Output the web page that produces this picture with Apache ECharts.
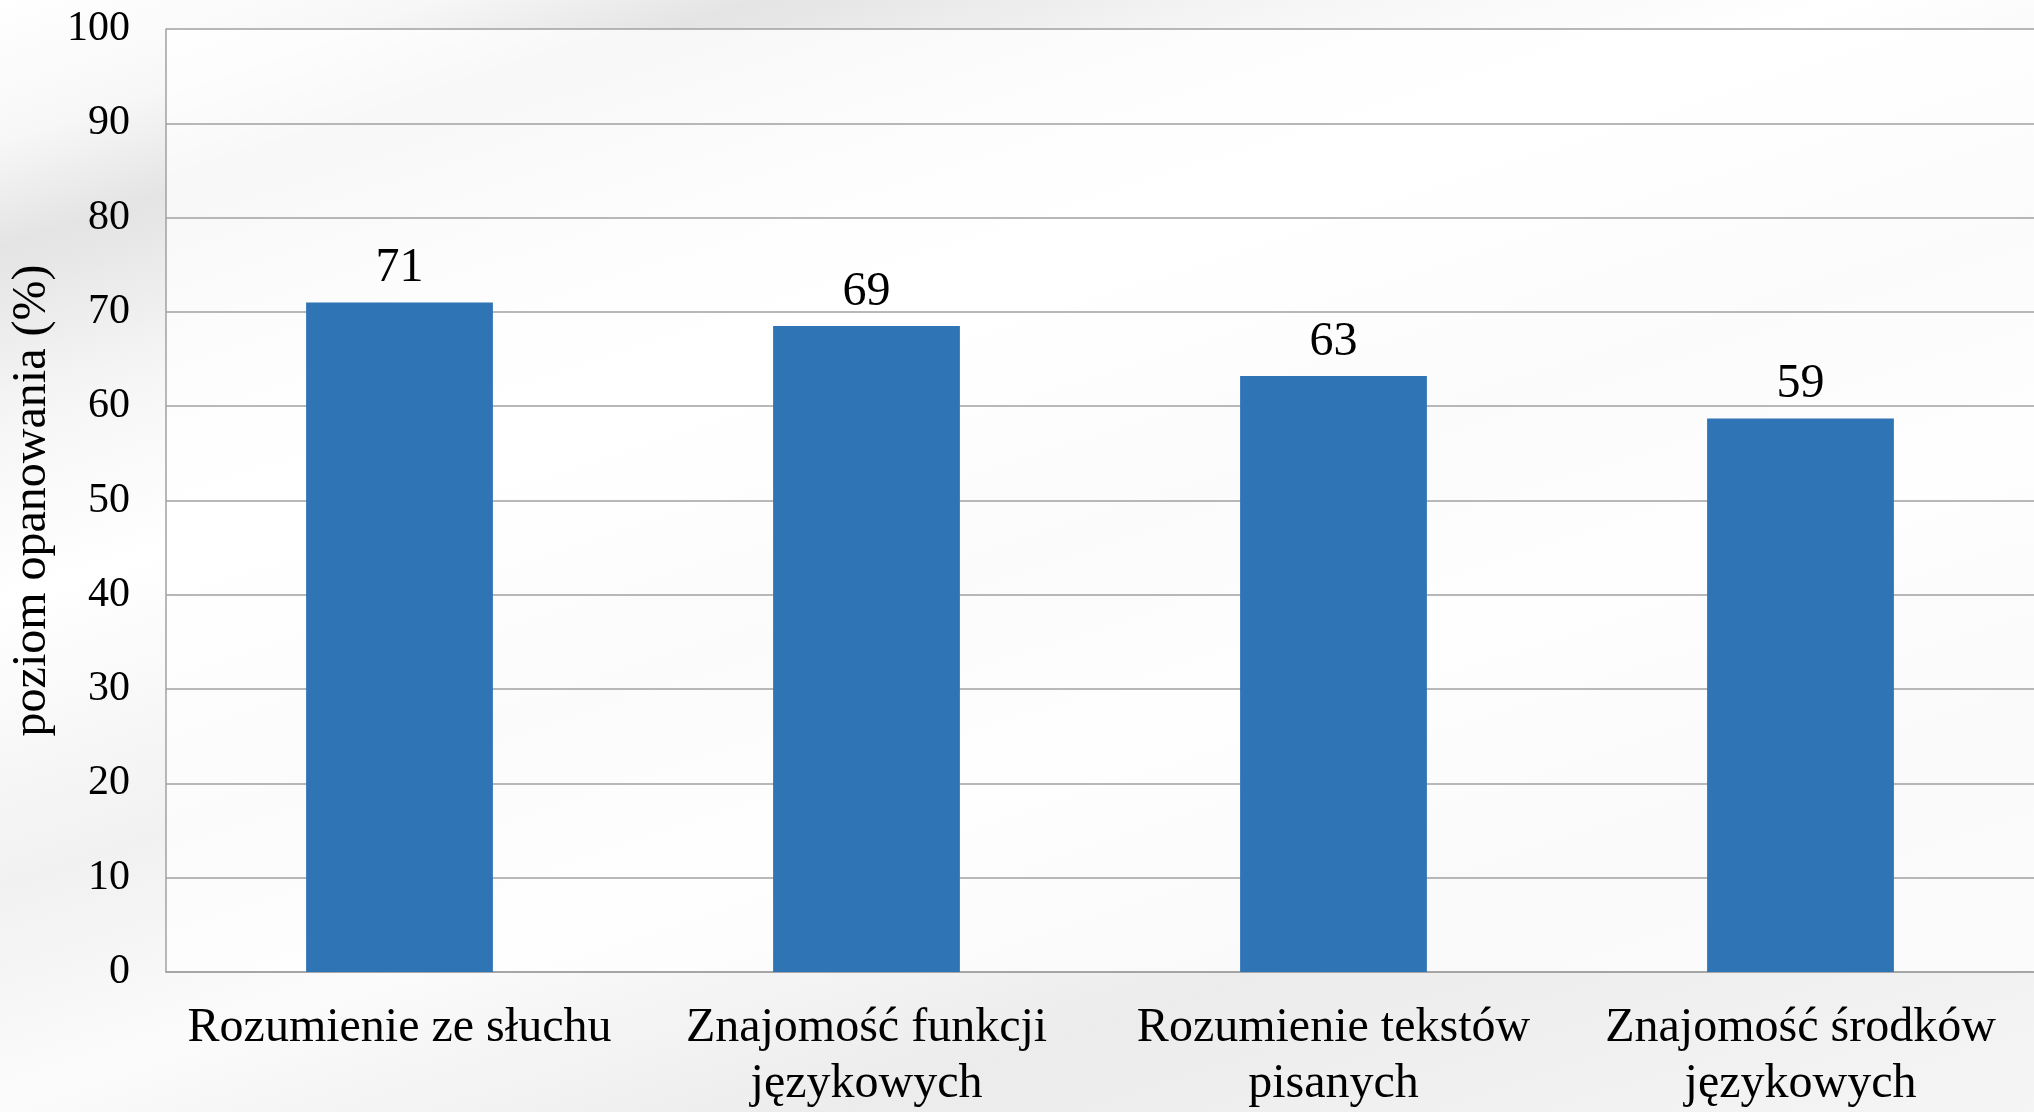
<!DOCTYPE html>
<html>
<head>
<meta charset="utf-8">
<script src="https://cdn.jsdelivr.net/npm/echarts@6/dist/echarts.min.js"></script>
<style>
html, body { margin: 0; padding: 0; }
body {
  width: 2034px; height: 1112px; overflow: hidden;
  background: linear-gradient(162deg, #ffffff 0%, #f7f7f7 8%, #e4e4e4 14%, #f6f6f6 24%, #ffffff 34%, #f1f1f1 50%, #fbfbfb 62%, #ececec 78%, #f5f5f5 100%);
}
#chart { width: 2034px; height: 1112px; }
</style>
</head>
<body>
<div id="chart"></div>
<script>
const categories = [
  "Rozumienie ze słuchu",
  "Znajomość funkcji\njęzykowych",
  "Rozumienie tekstów\npisanych",
  "Znajomość środków\njęzykowych"
];
const values = [71.0, 68.5, 63.2, 58.7];
const yAxisName = "poziom opanowania (%)";

const chart = echarts.init(document.getElementById('chart'));
const font = '"Liberation Serif", "Times New Roman", serif';
chart.setOption({
  backgroundColor: 'transparent',
  animation: false,
  textStyle: { fontFamily: font, color: '#000' },
  grid: {
    left: 166, right: -2, top: 29, bottom: 138, containLabel: false,
    show: true, backgroundColor: 'rgba(255,255,255,0.72)', borderWidth: 0
  },
  xAxis: {
    type: 'category',
    data: categories,
    axisLine: { show: true, lineStyle: { color: '#a0a0a0', width: 1.5 } },
    axisTick: { show: false },
    axisLabel: {
      fontFamily: font, fontSize: 48, color: '#000', lineHeight: 56,
      margin: 28, interval: 0
    },
    splitLine: { show: false }
  },
  yAxis: {
    type: 'value',
    min: 0, max: 100, interval: 10,
    name: yAxisName,
    nameLocation: 'middle',
    nameGap: 108,
    nameTextStyle: { fontFamily: font, fontSize: 48, color: '#000' },
    axisLine: { show: true, lineStyle: { color: '#a0a0a0', width: 1.5 } },
    axisTick: { show: false },
    axisLabel: { fontFamily: font, fontSize: 42, color: '#000', margin: 36 },
    splitLine: { show: true, lineStyle: { color: '#a0a0a0', width: 1.5 } }
  },
  series: [{
    type: 'bar',
    data: values,
    barWidth: '40%',
    itemStyle: { color: '#2f75b5' },
    label: {
      show: true, position: 'top', distance: 10,
      fontFamily: font, fontSize: 48, color: '#000',
      formatter: p => String(Math.round(p.value))
    }
  }]
});
</script>
</body>
</html>
